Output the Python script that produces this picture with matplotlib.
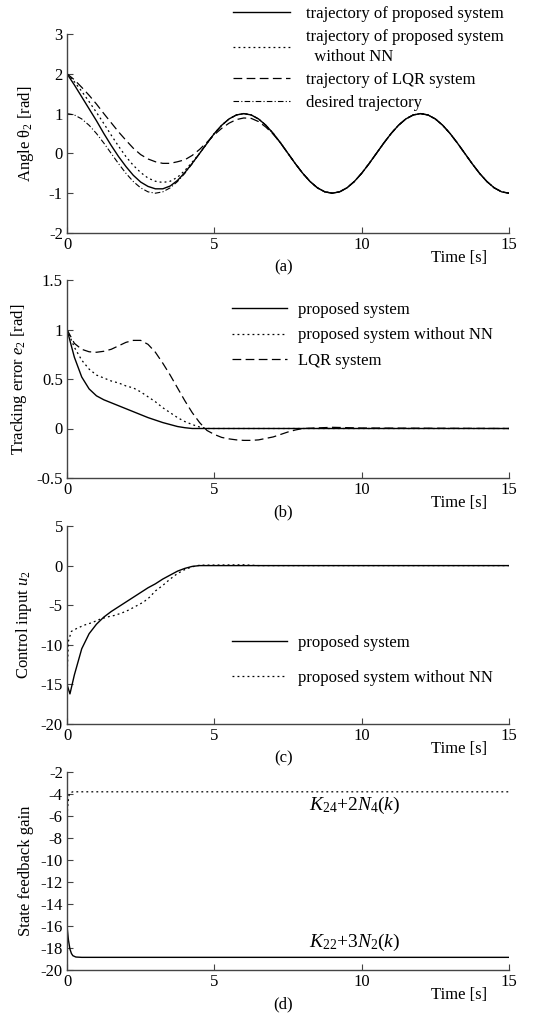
import numpy as np
import matplotlib.pyplot as plt
from matplotlib.lines import Line2D

plt.rcParams['font.family'] = ['Liberation Serif', 'DejaVu Serif']
plt.rcParams['mathtext.fontset'] = 'custom'
plt.rcParams['mathtext.rm'] = 'Liberation Serif'
plt.rcParams['mathtext.it'] = 'Liberation Serif:italic'
plt.rcParams['axes.unicode_minus'] = False
plt.rcParams['font.size'] = 12

# ---- (a) angle theta2, sampled every 0.25 s
t_a = np.arange(0, 15.01, 0.25)
theta_des = [1.0, 0.966, 0.866, 0.707, 0.5, 0.259, 0.0, -0.259, -0.5, -0.707, -0.866, -0.966,
             -1.0, -0.966, -0.866, -0.707, -0.5, -0.259, 0.0, 0.259, 0.5, 0.707, 0.866, 0.966,
             1.0, 0.966, 0.866, 0.707, 0.5, 0.259, 0.0, -0.259, -0.5, -0.707, -0.866, -0.966,
             -1.0, -0.966, -0.866, -0.707, -0.5, -0.259, 0.0, 0.259, 0.5, 0.707, 0.866, 0.966,
             1.0, 0.966, 0.866, 0.707, 0.5, 0.259, 0.0, -0.259, -0.5, -0.707, -0.866, -0.966, -1.0]
theta_prop = [2.0, 1.72, 1.42, 1.12, 0.82, 0.5, 0.2, -0.08, -0.33, -0.55, -0.72, -0.83,
              -0.89, -0.89, -0.82, -0.68, -0.48, -0.25, 0.0, 0.25, 0.5, 0.707, 0.866, 0.966,
              1.0, 0.966, 0.866, 0.707, 0.5, 0.259, 0.0, -0.259, -0.5, -0.707, -0.866, -0.966,
              -1.0, -0.966, -0.866, -0.707, -0.5, -0.259, 0.0, 0.259, 0.5, 0.707, 0.866, 0.966,
              1.0, 0.966, 0.866, 0.707, 0.5, 0.259, 0.0, -0.259, -0.5, -0.707, -0.866, -0.966, -1.0]
theta_nonn = [2.0, 1.8, 1.56, 1.3, 1.03, 0.75, 0.46, 0.18, -0.08, -0.3, -0.48, -0.62,
              -0.7, -0.73, -0.7, -0.6, -0.43, -0.22, 0.0, 0.25, 0.5, 0.707, 0.866, 0.966,
              1.0, 0.966, 0.866, 0.707, 0.5, 0.259, 0.0, -0.259, -0.5, -0.707, -0.866, -0.966,
              -1.0, -0.966, -0.866, -0.707, -0.5, -0.259, 0.0, 0.259, 0.5, 0.707, 0.866, 0.966,
              1.0, 0.966, 0.866, 0.707, 0.5, 0.259, 0.0, -0.259, -0.5, -0.707, -0.866, -0.966, -1.0]
theta_lqr = [2.0, 1.85, 1.66, 1.46, 1.24, 1.0, 0.77, 0.54, 0.33, 0.13, -0.03, -0.14,
             -0.21, -0.25, -0.25, -0.21, -0.16, -0.05, 0.1, 0.28, 0.47, 0.63, 0.76, 0.85,
             0.89, 0.88, 0.8, 0.66, 0.48, 0.26, 0.0, -0.259, -0.5, -0.707, -0.866, -0.966,
             -1.0, -0.966, -0.866, -0.707, -0.5, -0.259, 0.0, 0.259, 0.5, 0.707, 0.866, 0.966,
             1.0, 0.966, 0.866, 0.707, 0.5, 0.259, 0.0, -0.259, -0.5, -0.707, -0.866, -0.966, -1.0]

# ---- (b) tracking error e2
t_b = np.r_[np.arange(0, 8.01, 0.25), 9, 10, 15]
err_prop = [1.0, 0.72, 0.52, 0.4, 0.33, 0.29, 0.26, 0.23, 0.2, 0.17, 0.14, 0.11, 0.085,
            0.06, 0.04, 0.02, 0.008, 0.0, 0, 0, 0, 0, 0, 0, 0, 0, 0, 0, 0, 0, 0, 0, 0, 0, 0, 0]
err_nonn = [1.0, 0.82, 0.69, 0.6, 0.54, 0.51, 0.48, 0.46, 0.43, 0.41, 0.37, 0.32, 0.27,
            0.21, 0.16, 0.11, 0.07, 0.04, 0.015, 0.0, 0, 0, 0, 0, 0, 0, 0, 0, 0, 0, 0, 0, 0, 0, 0, 0]
err_lqr = [1.0, 0.86, 0.8, 0.775, 0.77, 0.78, 0.8, 0.835, 0.87, 0.89, 0.89, 0.85, 0.77,
           0.66, 0.54, 0.41, 0.28, 0.16, 0.06, -0.02, -0.06, -0.09, -0.105, -0.115, -0.12,
           -0.12, -0.115, -0.1, -0.085, -0.06, -0.035, -0.015, 0.0, 0.012, 0.005, 0.0]

# ---- (c) control input u2
t_c_prop = [0, 0.1, 0.25, 0.5, 0.75, 1.0, 1.25, 1.5, 1.75, 2.0, 2.25, 2.5, 2.75, 3.0,
            3.25, 3.5, 3.75, 4.0, 4.25, 4.5, 15]
u_prop = [-15.0, -16.2, -13.8, -10.5, -8.6, -7.4, -6.5, -5.8, -5.2, -4.6, -4.0, -3.4, -2.8,
          -2.3, -1.7, -1.2, -0.7, -0.35, -0.1, 0.0, 0.0]
t_c_nonn = [0, 0.05, 0.15, 0.35, 0.6, 0.85, 1.1, 1.35, 1.6, 1.85, 2.1, 2.35, 2.6, 2.8, 3.0,
            3.25, 3.5, 3.75, 4.0, 4.25, 4.5, 6.0, 6.5, 15]
u_nonn = [-14.0, -9.5, -8.3, -7.9, -7.5, -7.2, -6.8, -6.5, -6.3, -6.0, -5.6, -5.1, -4.6, -4.0,
          -3.2, -2.5, -1.7, -1.0, -0.5, -0.15, 0.05, 0.1, 0.0, 0.0]

# ---- (d) state feedback gains
t_d22 = [0, 0.05, 0.1, 0.15, 0.2, 0.3, 0.5, 15]
gain22 = [-16.0, -17.3, -18.1, -18.5, -18.7, -18.82, -18.85, -18.85]
t_d24 = [0, 0.03, 0.06, 0.1, 0.2, 15]
gain24 = [-6.0, -5.0, -4.2, -3.9, -3.8, -3.8]

W, H = 542, 1015
fig = plt.figure(figsize=(W / 100, H / 100), dpi=100)

solid = '-'
dotted = (0, (1.5, 2.5))
dashed = (0, (7, 3.5))
dashdot = (0, (5, 2, 1, 2))
fs = 12


def make_axes(top, bottom):
    ax = fig.add_axes([67 / W, 1 - bottom / H, 442 / W, (bottom - top) / H])
    for s in ['top', 'right']:
        ax.spines[s].set_visible(False)
    for s in ['left', 'bottom']:
        ax.spines[s].set_color('#444444')
        ax.spines[s].set_linewidth(1.0)
    ax.tick_params(direction='in', length=4, width=0.8, color='#444444', labelsize=fs, pad=3)
    ax.set_xlim(0, 15)
    ax.set_xticks([0, 5, 10, 15])
    ax.text(0.95, -0.125, 'Time [s]', transform=ax.transAxes, ha='right', va='center', fontsize=fs)
    return ax


def tag(ax, s):
    ax.text(0.489, -0.175, s, transform=ax.transAxes, ha='center', va='center', fontsize=fs)


def legend(ax, handles, labels, x, y, spacing, hl=3.4, pad=1.0):
    leg = ax.legend(handles, labels, loc='upper left', bbox_to_anchor=(x / W, 1 - y / H),
                    bbox_transform=fig.transFigure, frameon=False, fontsize=fs,
                    handlelength=hl, handletextpad=pad, borderpad=0, borderaxespad=0,
                    labelspacing=spacing)
    for txt in leg.get_texts():
        txt.set_linespacing(1.3)
    return leg


lw = 1.0
# (a)
ax = make_axes(34, 233)
ax.plot(t_a, theta_des, color='k', lw=0.8, ls=dashdot)
ax.plot(t_a, theta_lqr, color='k', lw=0.9, ls=dashed)
ax.plot(t_a, theta_nonn, color='k', lw=0.9, ls=dotted)
ax.plot(t_a, theta_prop, color='k', lw=lw, ls=solid)
ax.set_ylim(-2, 3)
ax.set_yticks([-2, -1, 0, 1, 2, 3])
ax.set_ylabel('Angle θ$_2$ [rad]', fontsize=fs, labelpad=9)
h = [Line2D([], [], color='k', lw=lw, ls=solid),
     Line2D([], [], color='k', lw=0.9, ls=dotted),
     Line2D([], [], color='k', lw=0.9, ls=dashed),
     Line2D([], [], color='k', lw=0.8, ls=dashdot)]
legend(ax, h, ['trajectory of proposed system', 'trajectory of proposed system\n  without NN',
               'trajectory of LQR system', 'desired trajectory'], 233, 6, 0.42)
tag(ax, '(a)')

# (b)
ax = make_axes(280, 478)
ax.plot(t_b, err_lqr, color='k', lw=0.9, ls=dashed)
ax.plot(t_b, err_nonn, color='k', lw=0.9, ls=dotted)
ax.plot(t_b, err_prop, color='k', lw=lw, ls=solid)
ax.set_ylim(-0.5, 1.5)
ax.set_yticks([-0.5, 0, 0.5, 1, 1.5])
ax.set_yticklabels(['-0.5', '0', '0.5', '1', '1.5'])
ax.set_ylabel('Tracking error $e_2$ [rad]', fontsize=fs, labelpad=5)
legend(ax, h[:3], ['proposed system', 'proposed system without NN', 'LQR system'],
       232, 302, 0.56, hl=3.3, pad=0.65)
tag(ax, '(b)')

# (c)
ax = make_axes(526, 724)
ax.plot(t_c_nonn, u_nonn, color='k', lw=0.9, ls=dotted)
ax.plot(t_c_prop, u_prop, color='k', lw=lw, ls=solid)
ax.set_ylim(-20, 5)
ax.set_yticks([-20, -15, -10, -5, 0, 5])
ax.set_ylabel('Control input $u_2$', fontsize=fs, labelpad=5)
legend(ax, h[:2], ['proposed system', 'proposed system without NN'],
       232, 635, 1.15, hl=3.3, pad=0.65)
tag(ax, '(c)')

# (d)
ax = make_axes(772, 970)
ax.plot(t_d24, gain24, color='k', lw=0.9, ls=dotted)
ax.plot(t_d22, gain22, color='k', lw=lw, ls=solid)
ax.set_ylim(-20, -2)
ax.set_yticks(np.arange(-20, -1, 2))
ax.set_ylabel('State feedback gain', fontsize=fs, labelpad=5)
ax.text(9.75, -5.0, '$K_{24}$+2$N_4$($k$)', ha='center', va='center', fontsize=14)
ax.text(9.75, -17.5, '$K_{22}$+3$N_2$($k$)', ha='center', va='center', fontsize=14)
tag(ax, '(d)')

fig.savefig('out.png', dpi=100)
